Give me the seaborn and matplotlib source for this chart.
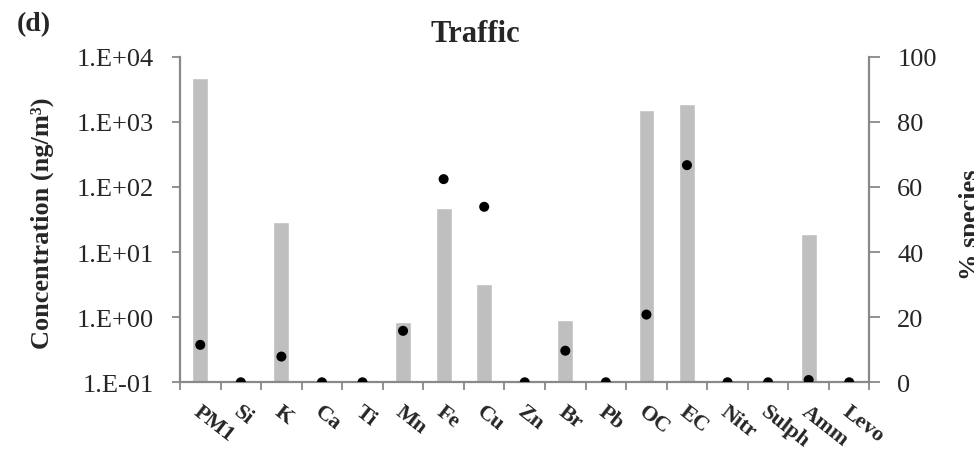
import numpy as np
import matplotlib
matplotlib.use("Agg")
import matplotlib.pyplot as plt
import matplotlib.transforms as mtransforms
import seaborn as sns

# Species measured at the traffic site
species = ["PM1", "Si", "K", "Ca", "Ti", "Mn", "Fe", "Cu", "Zn", "Br",
           "Pb", "OC", "EC", "Nitr", "Sulph", "Amm", "Levo"]
# Concentration attributed to the traffic source (ng/m3)
concentration = [4700, 0, 29, 0, 0, 0.84, 47, 3.2, 0, 0.9,
                 0, 1520, 1870, 0, 0, 19, 0]
# Share of each species explained by the source (%)
pct_species = [11.5, 0, 7.9, 0, 0, 15.8, 62.4, 53.9, 0, 9.7,
               0, 20.8, 66.7, 0, 0, 0.7, 0]

conc_ticks = [0.1, 1, 10, 100, 1000, 10000]
conc_ticklabels = ["1.E-01", "1.E+00", "1.E+01", "1.E+02", "1.E+03", "1.E+04"]
pct_ticks = [0, 20, 40, 60, 80, 100]

sns.set_style("white")
plt.rcParams["font.family"] = ["Liberation Serif", "DejaVu Serif"]

axis_grey = "#898989"
bar_grey = "#BFBFBF"

fig = plt.figure(figsize=(9.74, 4.52), dpi=100)
ax = fig.add_axes([0.1848, 0.152, 0.7079, 0.7203])

positions = np.arange(len(species))
sns.barplot(x=positions, y=concentration, color=bar_grey,
            width=0.39, ax=ax, native_scale=True, saturation=1)
ax.set_yscale("log")
ax.set_ylim(0.1, 1e4)
ax.set_xlim(-0.5, len(species) - 0.5)

ax2 = ax.twinx()
sns.scatterplot(x=positions, y=pct_species, ax=ax2,
                color="black", s=52, edgecolor="none", zorder=5)
ax2.set_ylim(0, 100)

# Left axis
ax.set_yticks(conc_ticks)
ax.set_yticklabels(conc_ticklabels)
ax.yaxis.set_minor_locator(matplotlib.ticker.NullLocator())
ax.tick_params(axis="y", which="major", direction="out", length=6, width=1.3,
               color=axis_grey, labelsize=19, pad=13, left=True)

# Category axis: labels at centres, tick marks at boundaries
ax.set_xticks(positions)
ax.set_xticklabels(species, fontweight="bold", fontsize=16,
                   rotation=-38, ha="left", va="center",
                   rotation_mode="anchor")
ax.tick_params(axis="x", which="major", length=0, pad=19)
ax.set_xticks(np.arange(len(species) + 1) - 0.5, minor=True)
ax.tick_params(axis="x", which="minor", direction="out", length=6,
               width=1.3, color=axis_grey, bottom=True)
shift = mtransforms.ScaledTranslation(-5 / 100, 0, fig.dpi_scale_trans)
for lbl in ax.get_xticklabels():
    lbl.set_transform(lbl.get_transform() + shift)

# Right axis
ax2.set_yticks(pct_ticks)
ax2.set_yticklabels([str(t) for t in pct_ticks])
ax2.tick_params(axis="y", direction="out", length=8, width=1.3,
                color=axis_grey, labelsize=19, pad=12, right=True)
ax2.tick_params(axis="x", bottom=False, labelbottom=False,
                top=False, labeltop=False)

for side in ["top", "right"]:
    ax.spines[side].set_visible(False)
for side in ["top", "left", "bottom"]:
    ax2.spines[side].set_visible(False)
for sp in [ax.spines["left"], ax.spines["bottom"], ax2.spines["right"]]:
    sp.set_color(axis_grey)
    sp.set_linewidth(1.6)

ax.set_xlabel("")
ax.set_ylabel("")
ax2.set_ylabel("")

fig.text(42 / 974, 1 - 223 / 452, "Concentration (ng/m³)", rotation=90,
         ha="center", va="center", fontsize=19, fontweight="bold")
fig.text(959 / 974, 1 - 225 / 452, "% species", rotation=90,
         ha="left", va="center", fontsize=19, fontweight="bold")
fig.text(475 / 974, 1 - 34 / 452, "Traffic", ha="center", va="center",
         fontsize=22, fontweight="bold")
fig.text(17 / 974, 1 - 25 / 452, "(d)", ha="left", va="center",
         fontsize=20, fontweight="bold")

fig.savefig("out.png", dpi=100)
